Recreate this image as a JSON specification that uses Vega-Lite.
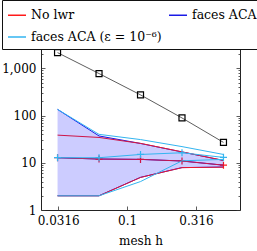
{
  "$schema": "https://vega.github.io/schema/vega-lite/v6.json",
  "autosize": "none",
  "width": 199,
  "height": 170,
  "padding": {"left": 41, "top": 40, "right": 17, "bottom": 41},
  "background": "white",
  "config": {
    "view": {"stroke": "#222", "strokeWidth": 1},
    "font": "DejaVu Serif",
    "axis": {"grid": false, "domain": false, "labelFont": "DejaVu Serif", "labelFontSize": 12, "labelColor": "black", "titleFont": "DejaVu Serif", "titleFontSize": 12, "titleFontWeight": "normal", "titleColor": "black", "tickColor": "#333", "tickWidth": 0.8},
    "legend": {"labelFont": "DejaVu Serif"}
  },
  "datasets": {
    "stats": [
      {"series": "faces ACA", "stat": "max", "h": 0.03125, "v": 135},
      {"series": "faces ACA", "stat": "max", "h": 0.0625, "v": 37},
      {"series": "faces ACA", "stat": "max", "h": 0.125, "v": 25.7},
      {"series": "faces ACA", "stat": "max", "h": 0.25, "v": 17},
      {"series": "faces ACA", "stat": "max", "h": 0.5, "v": 11.2},
      {"series": "faces ACA", "stat": "mean", "h": 0.03125, "v": 12.8},
      {"series": "faces ACA", "stat": "mean", "h": 0.0625, "v": 12},
      {"series": "faces ACA", "stat": "mean", "h": 0.125, "v": 11.8},
      {"series": "faces ACA", "stat": "mean", "h": 0.25, "v": 10.9},
      {"series": "faces ACA", "stat": "mean", "h": 0.5, "v": 8.9},
      {"series": "faces ACA", "stat": "min", "h": 0.03125, "v": 2},
      {"series": "faces ACA", "stat": "min", "h": 0.0625, "v": 2},
      {"series": "faces ACA", "stat": "min", "h": 0.125, "v": 4.9},
      {"series": "faces ACA", "stat": "min", "h": 0.25, "v": 7.9},
      {"series": "faces ACA", "stat": "min", "h": 0.5, "v": 8.1},
      {"series": "No lwr", "stat": "max", "h": 0.03125, "v": 38.5},
      {"series": "No lwr", "stat": "max", "h": 0.0625, "v": 34.4},
      {"series": "No lwr", "stat": "max", "h": 0.125, "v": 25.7},
      {"series": "No lwr", "stat": "max", "h": 0.25, "v": 17},
      {"series": "No lwr", "stat": "max", "h": 0.5, "v": 11.2},
      {"series": "No lwr", "stat": "mean", "h": 0.03125, "v": 12.8},
      {"series": "No lwr", "stat": "mean", "h": 0.0625, "v": 12},
      {"series": "No lwr", "stat": "mean", "h": 0.125, "v": 11.8},
      {"series": "No lwr", "stat": "mean", "h": 0.25, "v": 10.9},
      {"series": "No lwr", "stat": "mean", "h": 0.5, "v": 8.9},
      {"series": "No lwr", "stat": "min", "h": 0.03125, "v": 2},
      {"series": "No lwr", "stat": "min", "h": 0.0625, "v": 2},
      {"series": "No lwr", "stat": "min", "h": 0.125, "v": 4.9},
      {"series": "No lwr", "stat": "min", "h": 0.25, "v": 7.9},
      {"series": "No lwr", "stat": "min", "h": 0.5, "v": 8.1},
      {"series": "faces ACA (ε = 10⁻⁶)", "stat": "max", "h": 0.03125, "v": 135},
      {"series": "faces ACA (ε = 10⁻⁶)", "stat": "max", "h": 0.0625, "v": 40},
      {"series": "faces ACA (ε = 10⁻⁶)", "stat": "max", "h": 0.125, "v": 31},
      {"series": "faces ACA (ε = 10⁻⁶)", "stat": "max", "h": 0.25, "v": 22},
      {"series": "faces ACA (ε = 10⁻⁶)", "stat": "max", "h": 0.5, "v": 15},
      {"series": "faces ACA (ε = 10⁻⁶)", "stat": "mean", "h": 0.03125, "v": 12.8},
      {"series": "faces ACA (ε = 10⁻⁶)", "stat": "mean", "h": 0.0625, "v": 12.8},
      {"series": "faces ACA (ε = 10⁻⁶)", "stat": "mean", "h": 0.125, "v": 15},
      {"series": "faces ACA (ε = 10⁻⁶)", "stat": "mean", "h": 0.25, "v": 16.3},
      {"series": "faces ACA (ε = 10⁻⁶)", "stat": "mean", "h": 0.5, "v": 13},
      {"series": "faces ACA (ε = 10⁻⁶)", "stat": "min", "h": 0.03125, "v": 2},
      {"series": "faces ACA (ε = 10⁻⁶)", "stat": "min", "h": 0.0625, "v": 2},
      {"series": "faces ACA (ε = 10⁻⁶)", "stat": "min", "h": 0.125, "v": 4},
      {"series": "faces ACA (ε = 10⁻⁶)", "stat": "min", "h": 0.25, "v": 11},
      {"series": "faces ACA (ε = 10⁻⁶)", "stat": "min", "h": 0.5, "v": 11.8}
    ],
    "band": [
      {"h": 0.03125, "lo": 2, "hi": 135},
      {"h": 0.0625, "lo": 2, "hi": 37},
      {"h": 0.125, "lo": 4.9, "hi": 25.7},
      {"h": 0.25, "lo": 7.9, "hi": 17},
      {"h": 0.5, "lo": 8.1, "hi": 11.2}
    ],
    "ref": [
      {"h": 0.03125, "v": 2150},
      {"h": 0.0625, "v": 775},
      {"h": 0.125, "v": 274},
      {"h": 0.25, "v": 89},
      {"h": 0.5, "v": 27}
    ]
  },
  "resolve": {"axis": {"x": "independent", "y": "independent"}},
  "layer": [
    {
      "data": {"name": "stats"},
      "transform": [{"filter": "datum.series != 'faces ACA (ε = 10⁻⁶)'"}],
      "mark": {"type": "line", "strokeWidth": 1},
      "encoding": {
        "x": {"field": "h", "type": "quantitative", "scale": {"type": "log", "domain": [0.0237, 0.659], "nice": false}, "axis": {"orient": "bottom", "values": [0.0316, 0.1, 0.316], "labels": false, "ticks": true, "tickSize": -4, "title": null}},
        "y": {"field": "v", "type": "quantitative", "scale": {"type": "log", "domain": [1, 3980], "nice": false}, "axis": {"orient": "left", "values": [1, 10, 100, 1000], "labels": false, "ticks": true, "tickSize": -4, "title": null}},
        "color": {"field": "series", "type": "nominal", "scale": {"domain": ["No lwr", "faces ACA", "faces ACA (ε = 10⁻⁶)"], "range": ["#ff1a1a", "#1a1ae6", "#33b5f0"]},
          "legend": {"title": null, "orient": "none", "legendX": -39, "legendY": -40, "direction": "horizontal", "columns": 2, "symbolType": "stroke", "symbolSize": 324, "symbolStrokeWidth": 1.5, "labelFont": "DejaVu Serif", "labelFontSize": 12.5, "labelColor": "black", "labelLimit": 400, "labelOffset": 4, "strokeColor": "#111", "fillColor": "white", "padding": 5, "rowPadding": 5, "columnPadding": 4}},
        "detail": {"field": "stat"},
        "order": {"field": "h"}
      }
    },
    {
      "data": {"name": "stats"},
      "transform": [{"filter": "datum.series == 'No lwr' && datum.stat == 'mean'"}],
      "mark": {"type": "point", "shape": "M-1,0H1M0,-1V1", "filled": false, "size": 50, "strokeWidth": 1.2, "opacity": 1},
      "encoding": {
        "x": {"field": "h", "type": "quantitative", "scale": {"type": "log", "domain": [0.0237, 0.659], "nice": false}, "axis": {"orient": "top", "values": [0.0316, 0.1, 0.316], "labels": false, "ticks": true, "tickSize": -4, "title": null}},
        "y": {"field": "v", "type": "quantitative", "scale": {"type": "log", "domain": [1, 3980], "nice": false}, "axis": {"orient": "right", "values": [1, 10, 100, 1000], "labels": false, "ticks": true, "tickSize": -4, "title": null}},
        "color": {"field": "series", "type": "nominal", "legend": null}
      }
    },
    {
      "data": {"name": "band"},
      "mark": {"type": "area", "color": "blue", "opacity": 0.2},
      "encoding": {
        "x": {"field": "h", "type": "quantitative", "scale": {"type": "log", "domain": [0.0237, 0.659], "nice": false}, "axis": {"orient": "bottom", "values": [0.0316, 0.1, 0.316], "labelExpr": "datum.value == 0.1 ? '0.1' : datum.value == 0.0316 ? '0.0316' : '0.316'", "ticks": false, "labelPadding": 5, "title": "mesh h", "titlePadding": 9}},
        "y": {"field": "hi", "type": "quantitative", "scale": {"type": "log", "domain": [1, 3980], "nice": false}, "axis": {"orient": "left", "values": [1, 10, 100, 1000], "format": ",", "ticks": false, "labelPadding": 5, "title": null}},
        "y2": {"field": "lo"}
      }
    },
    {
      "data": {"name": "stats"},
      "transform": [{"filter": "datum.series == 'faces ACA (ε = 10⁻⁶)'"}],
      "mark": {"type": "line", "strokeWidth": 1},
      "encoding": {
        "x": {"field": "h", "type": "quantitative", "scale": {"type": "log", "domain": [0.0237, 0.659], "nice": false}, "axis": null},
        "y": {"field": "v", "type": "quantitative", "scale": {"type": "log", "domain": [1, 3980], "nice": false}, "axis": {"orient": "left", "values": [2,3,4,5,6,7,8,9,20,30,40,50,60,70,80,90,200,300,400,500,600,700,800,900,2000,3000], "labels": false, "ticks": true, "tickSize": -2, "title": null}},
        "color": {"field": "series", "type": "nominal"},
        "detail": {"field": "stat"},
        "order": {"field": "h"}
      }
    },
    {
      "data": {"name": "stats"},
      "transform": [{"filter": "datum.series == 'faces ACA (ε = 10⁻⁶)' && datum.stat == 'mean'"}],
      "mark": {"type": "point", "shape": "M-1,0H1M0,-1V1", "filled": false, "size": 50, "strokeWidth": 1.2, "opacity": 1},
      "encoding": {
        "x": {"field": "h", "type": "quantitative", "scale": {"type": "log", "domain": [0.0237, 0.659], "nice": false}, "axis": null},
        "y": {"field": "v", "type": "quantitative", "scale": {"type": "log", "domain": [1, 3980], "nice": false}, "axis": {"orient": "right", "values": [2,3,4,5,6,7,8,9,20,30,40,50,60,70,80,90,200,300,400,500,600,700,800,900,2000,3000], "labels": false, "ticks": true, "tickSize": -2, "title": null}},
        "color": {"field": "series", "type": "nominal", "legend": null}
      }
    },
    {
      "data": {"name": "ref"},
      "mark": {"type": "line", "color": "#333", "strokeWidth": 0.8, "point": {"shape": "square", "filled": false, "size": 36, "stroke": "black", "strokeWidth": 1.2, "opacity": 1}},
      "encoding": {
        "x": {"field": "h", "type": "quantitative", "scale": {"type": "log", "domain": [0.0237, 0.659], "nice": false}, "axis": null},
        "y": {"field": "v", "type": "quantitative", "scale": {"type": "log", "domain": [1, 3980], "nice": false}, "axis": null}
      }
    }
  ]
}
